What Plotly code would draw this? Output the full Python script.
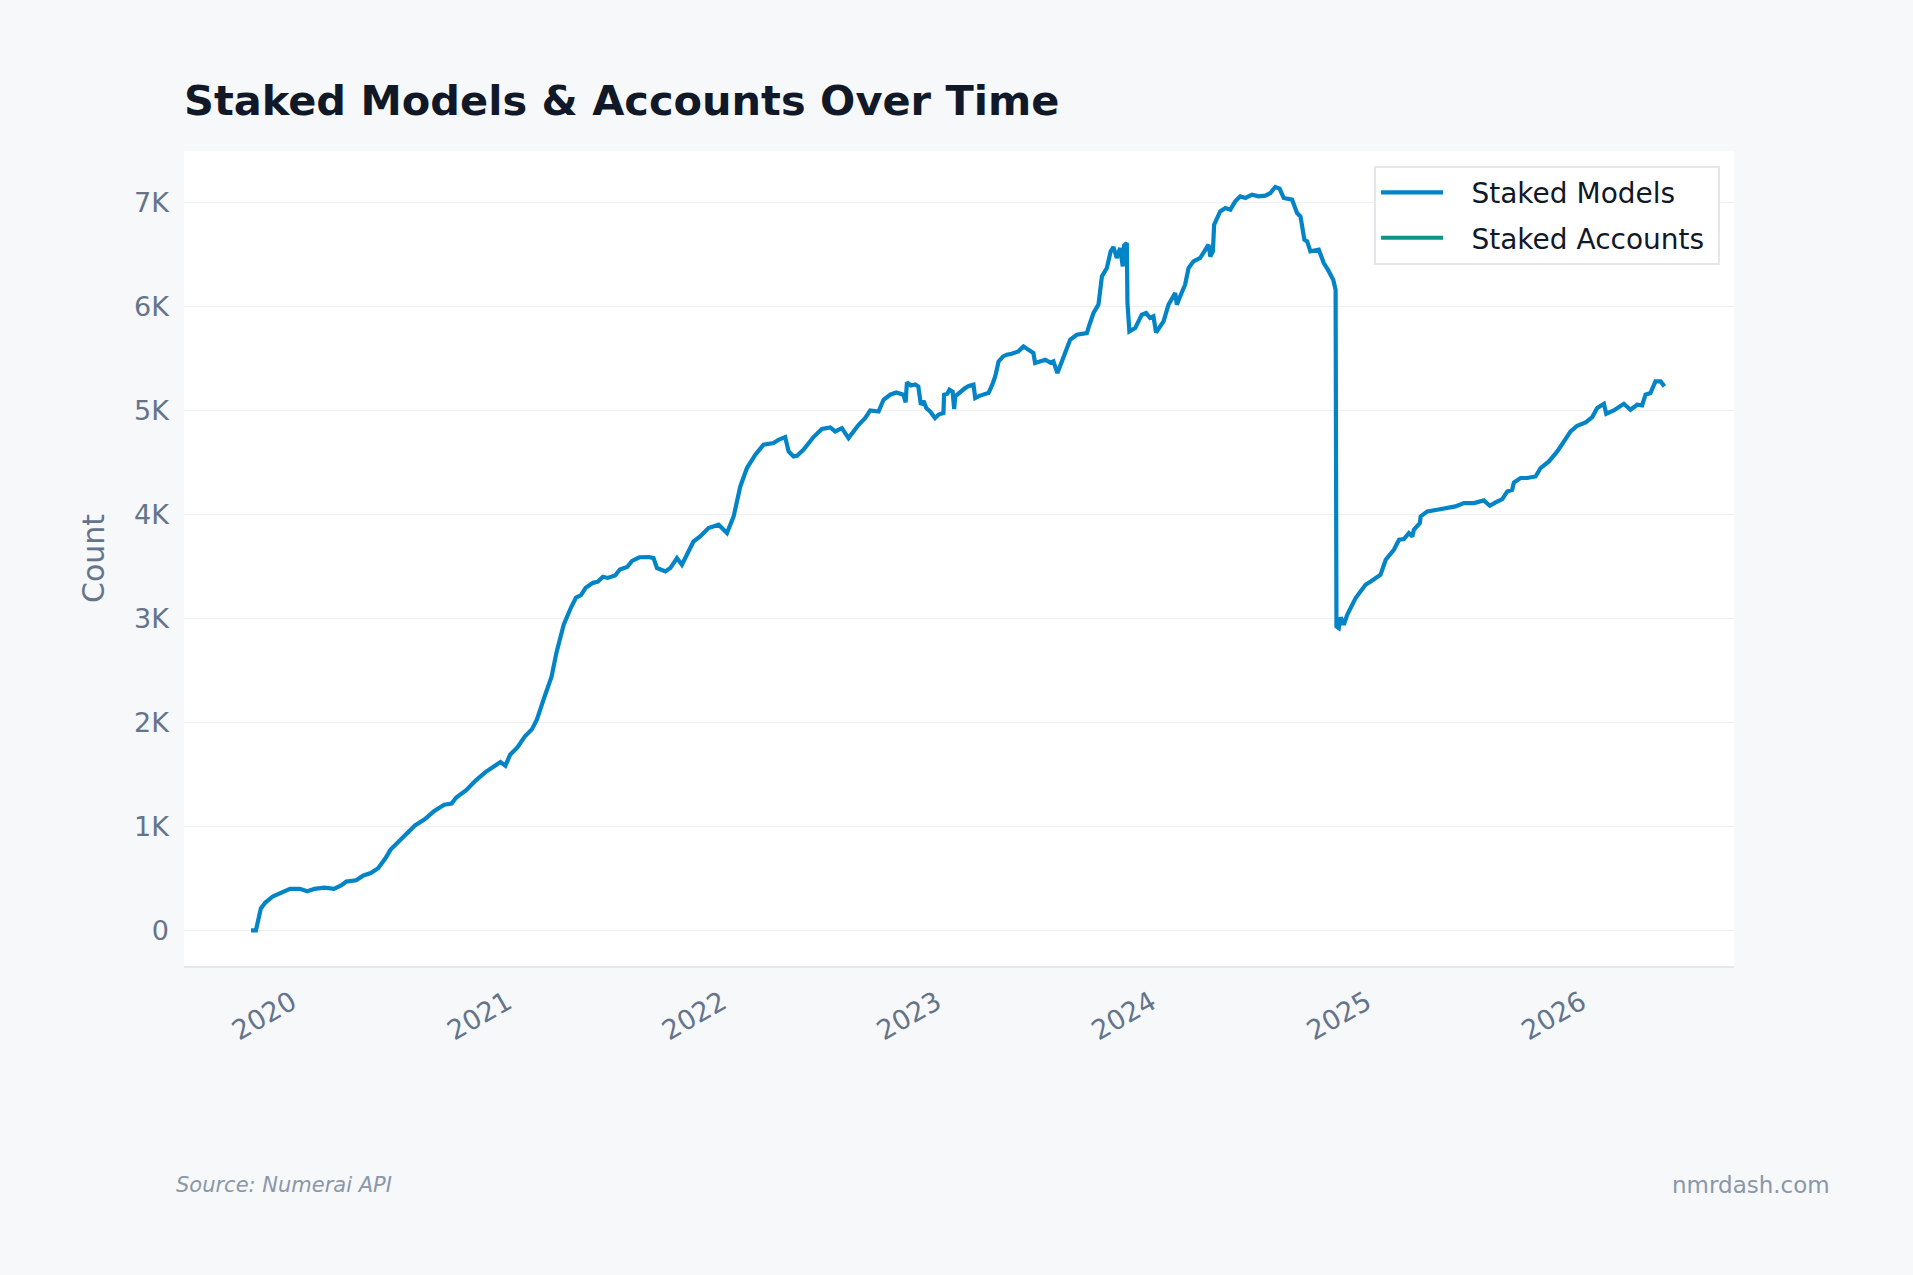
import pandas as pd
import plotly.graph_objects as go

# ---- data ----
decimal_years = [
    2019.810, 2019.833, 2019.856, 2019.878, 2019.913, 2019.947, 2019.992, 2020.037, 2020.072, 2020.106,
    2020.151, 2020.196, 2020.231, 2020.253, 2020.299, 2020.333, 2020.367, 2020.401, 2020.435, 2020.458,
    2020.492, 2020.526, 2020.572, 2020.617, 2020.662, 2020.708, 2020.742, 2020.764, 2020.810, 2020.855,
    2020.901, 2020.935, 2020.969, 2020.992, 2021.014, 2021.048, 2021.082, 2021.116, 2021.139, 2021.173,
    2021.207, 2021.230, 2021.264, 2021.298, 2021.321, 2021.344, 2021.366, 2021.400, 2021.423, 2021.446,
    2021.469, 2021.503, 2021.525, 2021.559, 2021.582, 2021.616, 2021.660, 2021.682,
    2021.698, 2021.737, 2021.760, 2021.791, 2021.814, 2021.868, 2021.899, 2021.938, 2021.985, 2022.024,
    2022.055, 2022.086, 2022.117, 2022.156, 2022.194, 2022.241, 2022.264, 2022.295, 2022.311, 2022.334,
    2022.350, 2022.380, 2022.427, 2022.466, 2022.505, 2022.528, 2022.559, 2022.590, 2022.637, 2022.668,
    2022.691, 2022.730, 2022.753, 2022.784, 2022.812, 2022.846, 2022.856, 2022.862, 2022.880, 2022.900,
    2022.915, 2022.927, 2022.940, 2022.952, 2022.970, 2022.993, 2023.010, 2023.032, 2023.035, 2023.050,
    2023.060, 2023.075, 2023.082, 2023.087, 2023.110, 2023.133, 2023.150, 2023.172, 2023.180, 2023.200,
    2023.230, 2023.242, 2023.260, 2023.273, 2023.289, 2023.310, 2023.327, 2023.350, 2023.381, 2023.405,
    2023.430, 2023.451, 2023.459, 2023.480, 2023.506, 2023.530, 2023.544, 2023.563, 2023.591,
    2023.622, 2023.653, 2023.700, 2023.712, 2023.731, 2023.754, 2023.770, 2023.793, 2023.811, 2023.824,
    2023.839, 2023.855, 2023.867, 2023.873, 2023.886, 2023.889, 2023.898, 2023.925, 2023.956, 2023.976,
    2023.994, 2024.010, 2024.022, 2024.057, 2024.080, 2024.111, 2024.119, 2024.134, 2024.157, 2024.173,
    2024.196, 2024.227, 2024.251, 2024.266, 2024.274, 2024.286, 2024.292, 2024.320, 2024.344, 2024.367,
    2024.390, 2024.413, 2024.437, 2024.468, 2024.499, 2024.530, 2024.553, 2024.576, 2024.596, 2024.615,
    2024.654, 2024.677, 2024.693, 2024.711, 2024.724, 2024.739, 2024.778, 2024.801, 2024.820, 2024.845,
    2024.856, 2024.860, 2024.871,
    2024.880, 2024.894, 2024.910, 2024.949, 2024.995, 2025.019, 2025.042, 2025.065, 2025.089, 2025.127,
    2025.151, 2025.174, 2025.197, 2025.213, 2025.220, 2025.248, 2025.252, 2025.283, 2025.329, 2025.376,
    2025.414, 2025.453, 2025.500, 2025.546, 2025.574, 2025.601, 2025.632, 2025.655, 2025.678, 2025.686,
    2025.717, 2025.748, 2025.787, 2025.810, 2025.849, 2025.888, 2025.919, 2025.950, 2025.981, 2026.020,
    2026.051, 2026.074, 2026.105, 2026.116, 2026.151, 2026.198, 2026.229, 2026.260, 2026.283, 2026.299,
    2026.322, 2026.345, 2026.369, 2026.387,
]

staked_models = [
    0, 0, 211, 270, 328, 363, 399, 399, 375, 399,
    410, 399, 434, 469, 481, 528, 551, 598, 692, 774,
    844, 926, 1008, 1067, 1149, 1208, 1219, 1278, 1348, 1442,
    1524, 1571, 1618, 1583, 1688, 1759, 1864, 1935, 2028, 2239,
    2439, 2673, 2943, 3107, 3201, 3224, 3295, 3342, 3353, 3400,
    3389, 3412, 3470, 3494, 3553, 3588, 3590, 3580,
    3484, 3452, 3484, 3580, 3516, 3740, 3788, 3869, 3901, 3821,
    3981, 4269, 4446, 4574, 4670, 4686, 4718, 4744, 4606, 4558,
    4564, 4622, 4744, 4821, 4837, 4798, 4830, 4734, 4862, 4927,
    5000, 4990, 5103, 5151, 5173, 5151, 5077, 5270, 5240, 5250,
    5230, 5055, 5090, 5023, 4990, 4927, 4960, 4975, 5151, 5160,
    5199, 5180, 5013, 5135, 5180, 5215, 5235, 5247, 5119, 5140,
    5160, 5167, 5250, 5327, 5471, 5520, 5536, 5545, 5568, 5616,
    5580, 5552, 5456, 5470, 5488, 5460, 5472, 5359, 5520,
    5680, 5728, 5744, 5824, 5937, 6017, 6289, 6369, 6530, 6572,
    6466, 6562, 6385, 6584, 6610, 6033, 5760, 5792, 5921, 5937,
    5889, 5905, 5750, 5856, 6017, 6129, 6017, 6097, 6209, 6369,
    6434, 6466, 6546, 6594, 6481, 6530, 6786, 6914, 6947, 6931,
    7011, 7059, 7043, 7075, 7059, 7065, 7091, 7149, 7133, 7043,
    7027, 6899, 6866, 6642, 6626, 6530, 6546, 6418, 6354, 6257,
    6161, 2923, 2907,
    3010, 2939, 3035, 3195, 3323, 3355, 3388, 3420, 3564, 3660,
    3756, 3763, 3821, 3788, 3852, 3917, 3981, 4029, 4045, 4061,
    4077, 4109, 4109, 4135, 4083, 4115, 4147, 4221, 4237, 4307,
    4350, 4350, 4365, 4446, 4510, 4606, 4702, 4798, 4853, 4885,
    4936, 5023, 5064, 4968, 5000, 5064, 5007, 5055, 5048, 5151,
    5167, 5279, 5279, 5231,
]

staked_accounts = []  # no visible data for this series in the reference

y_tick_values = [0, 1000, 2000, 3000, 4000, 5000, 6000, 7000]
y_tick_labels = ["0", "1K", "2K", "3K", "4K", "5K", "6K", "7K"]
x_tick_years = [2020, 2021, 2022, 2023, 2024, 2025, 2026]


def year_to_date(t):
    y = int(t // 1)
    start = pd.Timestamp(year=y, month=1, day=1)
    end = pd.Timestamp(year=y + 1, month=1, day=1)
    return start + (end - start) * (t - y)


dates = [year_to_date(t) for t in decimal_years]
tick_dates = [pd.Timestamp(year=y, month=1, day=1) for y in x_tick_years]

FONT = "DejaVu Sans"
TICK_COLOR = "#64748b"
LEAD = "\u00a0\u00a0\u2009"  # gap between legend line and its label
TRAIL = "\u00a0"             # right padding inside the legend box

fig = go.Figure()
fig.add_trace(go.Scatter(
    x=dates, y=staked_models, mode="lines", name=LEAD + "Staked Models" + TRAIL,
    line=dict(color="#0284c7", width=4.2), legendgroup="m",
))
fig.add_trace(go.Scatter(
    x=[None] if not staked_accounts else dates[:len(staked_accounts)],
    y=[None] if not staked_accounts else staked_accounts,
    mode="lines", name=LEAD + "Staked Accounts" + TRAIL,
    line=dict(color="#0d9488", width=4.2), legendgroup="a",
))

fig.update_layout(
    width=1913, height=1275,
    paper_bgcolor="#f7f8fa", plot_bgcolor="#ffffff",
    margin=dict(l=184, r=179, t=151, b=309),
    font=dict(family=FONT, color=TICK_COLOR),
    title=dict(
        text="<b>Staked Models & Accounts Over Time</b>",
        font=dict(family=FONT, size=41.5, color="#111827"),
        x=0, xref="paper", xanchor="left",
        y=1 - 100 / 1275, yref="container", yanchor="middle",
    ),
    showlegend=True,
    legend=dict(
        x=0.991, y=0.982, xanchor="right", yanchor="top",
        bgcolor="#ffffff", bordercolor="#e5e7eb", borderwidth=2,
        font=dict(family=FONT, size=28, color="#111827"),
        tracegroupgap=6, itemwidth=62,
    ),
    xaxis=dict(
        type="date",
        range=[year_to_date(2019.498), year_to_date(2026.711)],
        tickvals=tick_dates, ticktext=[str(y) for y in x_tick_years],
        tickangle=-30, showgrid=False, zeroline=False,
        showline=True, linecolor="#e5e7eb", linewidth=2,
        ticks="", ticklabelstandoff=8,
        tickfont=dict(family=FONT, size=27, color=TICK_COLOR),
    ),
    yaxis=dict(
        range=[-343, 7495],
        tickvals=y_tick_values, ticktext=y_tick_labels,
        showgrid=True, gridcolor="#eef0f3", gridwidth=1,
        zeroline=False, showline=False, ticks="", ticklabelstandoff=14,
        tickfont=dict(family=FONT, size=27, color=TICK_COLOR),
        title=dict(text="Count", font=dict(family=FONT, size=30, color=TICK_COLOR), standoff=20),
    ),
)

fig.add_annotation(
    text="<i>Source: Numerai API</i>", xref="paper", yref="paper",
    x=-0.0066, y=-0.2685, xanchor="left", yanchor="middle", showarrow=False,
    font=dict(family=FONT, size=21, color="#8a97a9"),
)
fig.add_annotation(
    text="nmrdash.com", xref="paper", yref="paper",
    x=1.0635, y=-0.2685, xanchor="right", yanchor="middle", showarrow=False,
    font=dict(family=FONT, size=23, color="#8a97a9"),
)

fig.write_html("out.html")
